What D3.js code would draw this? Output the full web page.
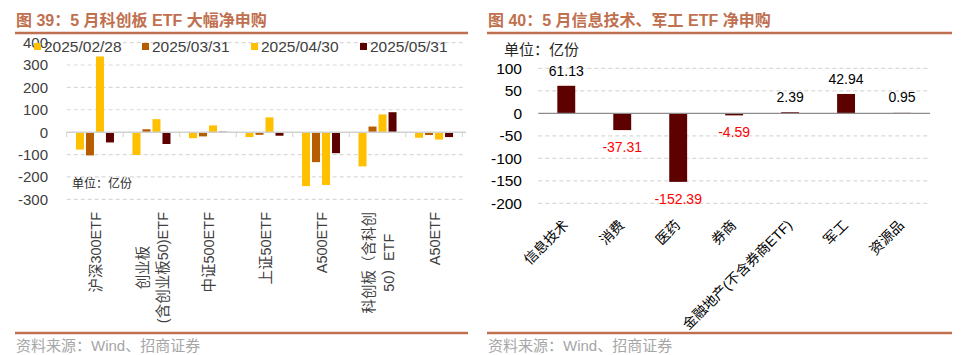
<!DOCTYPE html>
<html>
<head>
<meta charset="utf-8">
<script src="https://cdn.jsdelivr.net/npm/d3@7"></script>
<style>
  body { margin: 0; background: #fff; }
  text { font-family: "Liberation Sans", Arial, "Noto Sans CJK SC", sans-serif; }
</style>
</head>
<body>
<svg id="chart" width="971" height="355"></svg>
<script>
// left chart: 科创板 ETF net subscription by month (亿份)
const leftCats = [["沪深300ETF"], ["创业板", "(含创业板50)ETF"], ["中证500ETF"], ["上证50ETF"], ["A500ETF"], ["科创板（含科创", "50）ETF"], ["A50ETF"]];
const leftSeries = ["2025/02/28", "2025/03/31", "2025/04/30", "2025/05/31"];
const v0228 = [-78, -102, -27, -22, -241, -153, -25];
const v0331 = [-104, 13, -19, -12, -134, 25, -13];
const v0430 = [338, 58, 30, 66, -236, 79, -33];
const v0531 = [-46, -53, 2, -16, -94, 89, -22];
const leftColors = ["#FFC000", "#B85C00", "#FFC000", "#5C0000"];
const leftTicks = [400, 300, 200, 100, 0, -100, -200, -300];

// right chart: 行业 ETF 净申购 (亿份)
const rightCats = ["信息技术", "消费", "医药", "券商", "金融地产(不含券商ETF)", "军工", "资源品"];
const rightVals = [61.13, -37.31, -152.39, -4.59, 2.39, 42.94, 0.95];
const rightTicks = [100, 50, 0, -50, -100, -150, -200];

const ACCENT = "#C0704F";
const svg = d3.select("#chart");

function panelFrame(x0, x1, title) {
    svg.append("text")
        .attr("x", x0 + 1).attr("y", 26)
        .attr("font-size", 16).attr("font-weight", "bold")
        .attr("fill", ACCENT)
        .text(title);
    svg.append("line")
        .attr("x1", x0).attr("x2", x1).attr("y1", 33).attr("y2", 33)
        .attr("stroke", ACCENT).attr("stroke-width", 2.5);
    svg.append("line")
        .attr("x1", x0).attr("x2", x1).attr("y1", 333).attr("y2", 333)
        .attr("stroke", ACCENT).attr("stroke-width", 2.5);
    svg.append("text")
        .attr("x", x0 + 1).attr("y", 351)
        .attr("font-size", 15).attr("fill", "#A6A6A6")
        .text("资料来源：Wind、招商证券");
}

panelFrame(15, 468, "图 39：5 月科创板 ETF 大幅净申购");
panelFrame(487, 952, "图 40：5 月信息技术、军工 ETF 净申购");

// ---------- left chart ----------
(function(){
    const data = leftCats.map((c, i) => ({cat: i, vals: [v0228[i], v0331[i], v0430[i], v0531[i]]}));

    const x = d3.scaleBand().domain(d3.range(leftCats.length)).range([66.7, 462.3]);
    const xs = d3.scaleBand().domain(d3.range(leftSeries.length))
        .range([9.25, x.bandwidth() - 9.25]).paddingInner(0.2);
    const y = d3.scaleLinear().domain([-300, 400]).range([199.3, 42.6]);

    const g = svg.append("g");

    g.selectAll("line.grid")
        .data(leftTicks.filter(t => t != 0))
        .enter().append("line")
        .attr("x1", 66.7).attr("x2", 466)
        .attr("y1", d => y(d)).attr("y2", d => y(d))
        .attr("stroke", "#D9D9D9").attr("stroke-width", 1.2)
        .attr("stroke-dasharray", "4,3");

    g.selectAll("text.ylab")
        .data(leftTicks)
        .enter().append("text")
        .attr("x", 48).attr("y", d => y(d)).attr("dy", "0.36em")
        .attr("text-anchor", "end")
        .attr("font-size", 15).attr("fill", "#404040")
        .text(d => d);

    const groups = g.selectAll("g.grp")
        .data(data)
        .enter().append("g")
        .attr("transform", d => "translate(" + x(d.cat) + ",0)");

    groups.selectAll("rect")
        .data(d => d.vals)
        .enter().append("rect")
        .attr("x", (d, i) => xs(i))
        .attr("width", xs.bandwidth())
        .attr("y", d => y(Math.max(0, d)))
        .attr("height", d => Math.abs(y(d) - y(0)))
        .attr("fill", (d, i) => leftColors[i]);

    // zero line and category ticks
    g.append("line")
        .attr("x1", 66.7).attr("x2", 466)
        .attr("y1", y(0)).attr("y2", y(0))
        .attr("stroke", "#D0D0D0").attr("stroke-width", 1.5);
    g.selectAll("line.tick")
        .data(d3.range(leftCats.length + 1))
        .enter().append("line")
        .attr("x1", d => 66.7 + d * x.step()).attr("x2", d => 66.7 + d * x.step())
        .attr("y1", y(0)).attr("y2", y(0) + 5)
        .attr("stroke", "#D0D0D0").attr("stroke-width", 1);

    // legend
    const leg = g.selectAll("g.leg")
        .data(leftSeries)
        .enter().append("g")
        .attr("transform", (d, i) => "translate(" + [34, 142, 251, 360][i] + ",0)");
    leg.append("rect")
        .attr("x", 0).attr("y", 43).attr("width", 7).attr("height", 7)
        .attr("fill", (d, i) => leftColors[i]);
    leg.append("text")
        .attr("x", 10).attr("y", 52)
        .attr("font-size", 15.5).attr("fill", "#404040")
        .text(d => d);

    g.append("text")
        .attr("x", 72).attr("y", 188)
        .attr("font-size", 12).attr("fill", "#262626")
        .text("单位：亿份");

    // rotated category labels
    const labs = g.selectAll("g.xlab")
        .data(leftCats)
        .enter().append("g")
        .attr("transform", (d, i) => "translate(" + (x(i) + x.bandwidth() / 2 + 1) + ",212) rotate(-90)");
    labs.each(function(lines){
        const sel = d3.select(this);
        const texts = sel.selectAll("text")
            .data(lines)
            .enter().append("text")
            .attr("font-size", 14.5).attr("fill", "#404040")
            .attr("y", (d, j) => (j - (lines.length - 1) / 2) * 20)
            .attr("dy", "0.36em")
            .text(d => d);
        let maxLen = 0;
        texts.each(function(){ maxLen = Math.max(maxLen, this.getComputedTextLength()); });
        texts.attr("x", -maxLen / 2).attr("text-anchor", "middle");
    });
})();

// ---------- right chart ----------
(function(){
    const x = d3.scaleBand().domain(rightCats).range([538.3, 930])
        .paddingInner(0.68).paddingOuter(0.34);
    const y = d3.scaleLinear().domain([-200, 100]).range([203.3, 68.3]);
    const g = svg.append("g");

    g.selectAll("line.grid")
        .data(rightTicks.filter(t => t != 0))
        .enter().append("line")
        .attr("x1", 538.3).attr("x2", 930)
        .attr("y1", d => y(d)).attr("y2", d => y(d))
        .attr("stroke", "#D9D9D9").attr("stroke-width", 1.2)
        .attr("stroke-dasharray", "4,3");

    g.selectAll("text.ylab")
        .data(rightTicks)
        .enter().append("text")
        .attr("x", 522).attr("y", d => y(d)).attr("dy", "0.36em")
        .attr("text-anchor", "end")
        .attr("font-size", 15.5).attr("fill", "#000")
        .text(d => d);

    g.selectAll("rect")
        .data(rightVals)
        .enter().append("rect")
        .attr("x", (d, i) => x(rightCats[i]))
        .attr("width", x.bandwidth())
        .attr("y", d => y(Math.max(0, d)))
        .attr("height", d => Math.abs(y(d) - y(0)))
        .attr("fill", "#5C0000");

    g.append("line")
        .attr("x1", 538.3).attr("x2", 930)
        .attr("y1", y(0)).attr("y2", y(0))
        .attr("stroke", "#8C8C8C").attr("stroke-width", 1.2);

    g.selectAll("text.val")
        .data(rightVals)
        .enter().append("text")
        .attr("x", (d, i) => x(rightCats[i]) + x.bandwidth() / 2)
        .attr("y", d => d >= 0 ? y(Math.max(d, 2.39)) - 10 : y(d) + 22)
        .attr("text-anchor", "middle")
        .attr("font-size", 14).attr("fill", d => d >= 0 ? "#000" : "#FF0000")
        .text(d => d.toFixed(2));

    g.append("text")
        .attr("x", 504).attr("y", 55)
        .attr("font-size", 15).attr("fill", "#262626")
        .text("单位：亿份");

    g.selectAll("text.xlab")
        .data(rightCats)
        .enter().append("text")
        .attr("transform", d => "translate(" + (x(d) + x.bandwidth() / 2 + 3) + ",226) rotate(-45)")
        .attr("text-anchor", "end")
        .attr("font-size", 14).attr("fill", "#000")
        .text(d => d);
})();
</script>
</body>
</html>
